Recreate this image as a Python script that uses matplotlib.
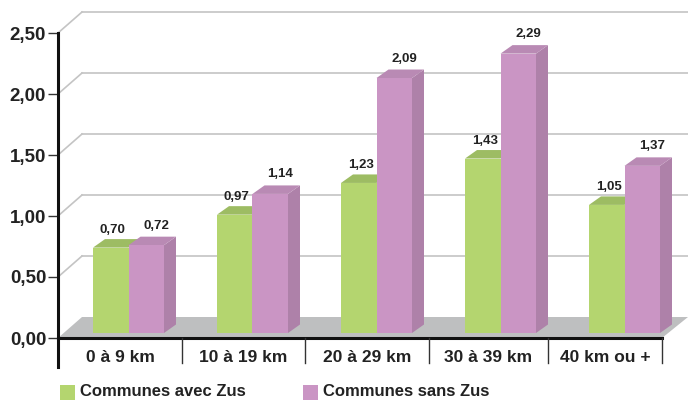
import matplotlib
matplotlib.use("Agg")
import matplotlib.pyplot as plt
from matplotlib.patches import Polygon, Rectangle

# distance classes and ratios for both series
categories = ["0 à 9 km", "10 à 19 km", "20 à 29 km", "30 à 39 km", "40 km ou +"]
avec_zus = [0.70, 0.97, 1.23, 1.43, 1.05]
sans_zus = [0.72, 1.14, 2.09, 2.29, 1.37]
yticks = [0.0, 0.5, 1.0, 1.5, 2.0, 2.5]
series_names = ["Communes avec Zus", "Communes sans Zus"]

GREEN, GREEN_TOP = "#b4d56f", "#9dbc63"
PINK, PINK_TOP, PINK_SIDE = "#ca95c4", "#b98ab4", "#ae81a9"
FLOOR = "#bebfc0"
GRID = "#c4c4c4"

FONT = ["Liberation Sans", "DejaVu Sans"]

W, H = 688, 401
fig = plt.figure(figsize=(W / 100, H / 100), dpi=100)
fig.patch.set_facecolor("white")
# axes: x in category units (124 px each), y in value units (122 px each)
ax = fig.add_axes([58 / W, (H - 338) / H, (W - 58) / W, 338 / H])
ax.set_xlim(-0.5, (W - 120) / 124)
ax.set_ylim(0, 338 / 122)
ax.set_facecolor("none")

px = 1 / 124   # one pixel in x data units
py = 1 / 122   # one pixel in y data units
DX, DY = 24 * px, 21 * py          # depth of the floor / back wall
BDX, BDY = 12 * px, 8.5 * py       # depth of a bar
BASE = 5 * py                      # bars stand slightly inside the floor
BW = 35.5 * px
x_right = (662 - 120) / 124        # end of the front floor edge

# back wall grid and left wall diagonals
for v in yticks[1:]:
    ax.plot([-0.5 + DX, ax.get_xlim()[1]], [v + DY, v + DY], color=GRID, lw=1.2, zorder=1)
    ax.plot([-0.5, -0.5 + DX], [v, v + DY], color=GRID, lw=1.2, zorder=1)

# floor
ax.add_patch(Polygon([(-0.5, 0), (x_right, 0), (x_right + DX + 2 * px, DY),
                      (-0.5 + DX, DY)], closed=True, fc=FLOOR, ec="none", zorder=2))

x = list(range(len(categories)))
gx = [i - 27 * px for i in x]
pxs = [g + BW for g in gx]

# green bars: top face then front
for g, v in zip(gx, avec_zus):
    t = BASE + v
    ax.add_patch(Polygon([(g, t), (g + BDX, t + BDY), (g + BW + BDX, t + BDY), (g + BW, t)],
                         closed=True, fc=GREEN_TOP, ec="none", zorder=3))
ax.bar(gx, avec_zus, width=BW, bottom=BASE, align="edge", color=GREEN, zorder=4)

# pink bars: side, top, front
for p, v in zip(pxs, sans_zus):
    t = BASE + v
    r = p + BW
    ax.add_patch(Polygon([(r, BASE), (r + BDX, BASE + BDY), (r + BDX, t + BDY), (r, t)],
                         closed=True, fc=PINK_SIDE, ec="none", zorder=5))
    ax.add_patch(Polygon([(p, t), (p + BDX, t + BDY), (r + BDX, t + BDY), (r, t)],
                         closed=True, fc=PINK_TOP, ec="none", zorder=5))
ax.bar(pxs, sans_zus, width=BW, bottom=BASE, align="edge", color=PINK, zorder=6)

def fmt(v):
    return f"{v:.2f}".replace(".", ",")

for g, v in zip(gx, avec_zus):
    ax.text(g + BW / 2 + 2 * px, BASE + v + 14.5 * py, fmt(v), ha="center", va="baseline",
            fontsize=9.5, fontweight="bold", color="#222222", family=FONT, zorder=7)
for p, v in zip(pxs, sans_zus):
    ax.text(p + BW / 2 + 10 * px, BASE + v + 16.5 * py, fmt(v), ha="center", va="baseline",
            fontsize=9.5, fontweight="bold", color="#222222", family=FONT, zorder=7)

# axes lines
ax.plot([-0.5, x_right], [0, 0], color="#111111", lw=2.2, zorder=8, clip_on=False)
ax.plot([-0.5, -0.5], [-29 * py, 2.5], color="#111111", lw=2.2, zorder=8, clip_on=False)
for s in ax.spines.values():
    s.set_visible(False)

# category separators below the axis
seps = [(p - 120) / 124 for p in [58, 182, 305, 429, 548, 662]]
for s in seps[1:]:
    ax.plot([s, s], [0, -25 * py], color="#333333", lw=1, zorder=8, clip_on=False)
for a, b, lab in zip(seps[:-1], seps[1:], categories):
    ax.text((a + b) / 2, -19 * py, lab, ha="center", va="center", fontsize=12.5,
            fontweight="bold", color="#222222", family=FONT, clip_on=False)

ax.set_xticks([])
ax.set_yticks(yticks)
ax.set_yticklabels([fmt(v) for v in yticks], fontsize=13.5, fontweight="bold",
                   color="#222222", family=FONT)
ax.tick_params(axis="y", length=7, width=1, color="#333333", pad=1.5)

# legend
for lx, col, name in [(60, GREEN, series_names[0]), (303, PINK, series_names[1])]:
    fig.patches.append(Rectangle((lx / W, (H - 400) / H), 15 / W, 15 / H,
                                 transform=fig.transFigure, fc=col, ec="none"))
    fig.text((lx + 20) / W, 1 - 392 / H, name, ha="left", va="center", fontsize=12,
             fontweight="bold", color="#222222", family=FONT)

fig.savefig("out.png", dpi=100)
